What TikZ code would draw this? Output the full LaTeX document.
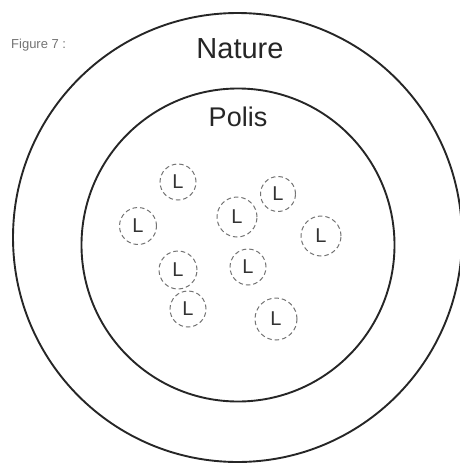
\documentclass[tikz,border=0pt]{standalone}
\usepackage{fontspec}
\setmainfont{Liberation Sans}
\begin{document}
\begin{tikzpicture}[x=1pt,y=-1pt,
  ring/.style={circle,draw=black!85,line width=1.9pt,inner sep=0pt},
  lcirc/.style={circle,draw=black!55,line width=1pt,dash pattern=on 4.5pt off 3pt,inner sep=0pt,font=\fontsize{20}{20}\selectfont,text=black!80},
  title/.style={font=\fontsize{29}{29}\selectfont,text=black!85,inner sep=0pt}]
\useasboundingbox (0,0) rectangle (460,463);
\clip (0,0) rectangle (460,463);
\node[ring,minimum size=449pt] (nature) at (237.5,237.5) {};
\node[ring,minimum size=313pt] (polis) at (238,245) {};
\node[title] (naturelbl) at (240,49) {Nature};
\node[title,font=\fontsize{27}{27}\selectfont] (polislbl) at (238,117) {Polis};
\node[font=\fontsize{13}{13}\selectfont,text=black!55,inner sep=0pt,anchor=west] (fig) at (11,45) {Figure 7 :};
\node[lcirc,minimum size=36pt] (l1) at (178,182) {L};
\node[lcirc,minimum size=37pt] (l2) at (138,226) {L};
\node[lcirc,minimum size=40pt] (l3) at (237,217) {L};
\node[lcirc,minimum size=35pt] (l4) at (278,194) {L};
\node[lcirc,minimum size=40pt] (l5) at (321,236) {L};
\node[lcirc,minimum size=38pt] (l6) at (178,270) {L};
\node[lcirc,minimum size=36pt] (l7) at (248,267) {L};
\node[lcirc,minimum size=36pt] (l8) at (188,309) {L};
\node[lcirc,minimum size=42pt] (l9) at (276,319) {L};
\end{tikzpicture}
\end{document}
